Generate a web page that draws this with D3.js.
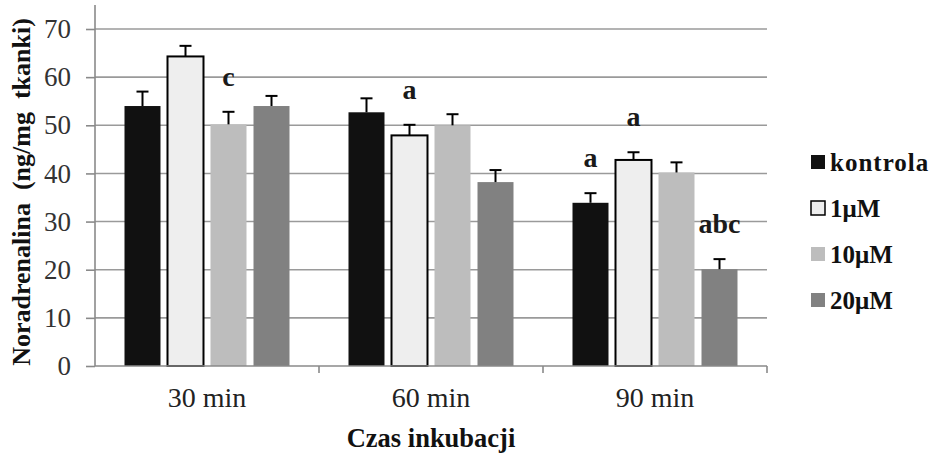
<!DOCTYPE html>
<html><head><meta charset="utf-8">
<script src="https://cdn.jsdelivr.net/npm/d3@7"></script>
<style>body{margin:0;background:#fff}svg{display:block}</style>
</head><body>
<svg id="c" width="933" height="456"></svg>
<script>
const categories = ["30 min", "60 min", "90 min"];
const seriesNames = ["kontrola", "1\u03bcM", "10\u03bcM", "20\u03bcM"];
const kontrola = [54.0, 52.7, 33.9];
const uM1 = [64.3, 47.9, 42.8];
const uM10 = [50.2, 50.0, 40.2];
const uM20 = [54.0, 38.2, 20.1];
const errKontrola = [3.0, 2.9, 2.0];
const errUM1 = [2.2, 2.2, 1.6];
const errUM10 = [2.6, 2.3, 2.1];
const errUM20 = [2.1, 2.5, 2.1];
const yTicks = [0, 10, 20, 30, 40, 50, 60, 70];
const annotations = [
  {cat: "30 min", series: "10\u03bcM", text: "c"},
  {cat: "60 min", series: "1\u03bcM", text: "a"},
  {cat: "90 min", series: "kontrola", text: "a"},
  {cat: "90 min", series: "1\u03bcM", text: "a"},
  {cat: "90 min", series: "20\u03bcM", text: "abc"}
];

const values = [kontrola, uM1, uM10, uM20];
const errors = [errKontrola, errUM1, errUM10, errUM20];
const fills = ["#111111", "#eeeeee", "#bdbdbd", "#818181"];
const strokes = ["none", "#000", "none", "none"];

const svg = d3.select("#c");
const L = 95, R = 767, T = 29, B = 366;
const y = d3.scaleLinear().domain([0, 70]).range([B, T]);
const x0 = d3.scaleBand().domain(categories).range([L, R]).paddingInner(0).paddingOuter(0);
const inner = 29.5;
const x1 = d3.scaleBand().domain(seriesNames).range([inner, x0.bandwidth() - inner]).paddingInner(0.163).paddingOuter(0);

const serif = "'Liberation Serif','Times New Roman',serif";

// gridlines
svg.append("g").selectAll("line").data(yTicks.filter(d => d > 0)).join("line")
  .attr("x1", L).attr("x2", R).attr("y1", d => y(d)).attr("y2", d => y(d))
  .attr("stroke", "#9a9a9a").attr("stroke-width", 1.6);

// y axis
const yAxis = svg.append("g").attr("transform", `translate(${L},0)`)
  .call(d3.axisLeft(y).tickValues(yTicks).tickSize(9).tickPadding(15));
yAxis.select(".domain").remove();
yAxis.selectAll(".tick line").attr("stroke", "#8a8a8a").attr("stroke-width", 1.6);
yAxis.selectAll("text").attr("font-family", serif).attr("font-size", 27).attr("fill", "#333");
svg.append("line").attr("x1", L).attr("x2", L).attr("y1", y(75)).attr("y2", B)
  .attr("stroke", "#8a8a8a").attr("stroke-width", 1.6);

// bars
const groups = svg.append("g").selectAll("g").data(categories).join("g")
  .attr("transform", d => `translate(${x0(d)},0)`);
seriesNames.forEach((s, si) => {
  groups.append("rect")
    .attr("x", x1(s)).attr("width", x1.bandwidth())
    .attr("y", (d, ci) => y(values[si][ci]))
    .attr("height", (d, ci) => B - y(values[si][ci]))
    .attr("fill", fills[si]).attr("stroke", strokes[si]).attr("stroke-width", 2);
  groups.append("line")
    .attr("x1", x1(s) + x1.bandwidth() / 2).attr("x2", x1(s) + x1.bandwidth() / 2)
    .attr("y1", (d, ci) => y(values[si][ci])).attr("y2", (d, ci) => y(values[si][ci] + errors[si][ci]))
    .attr("stroke", "#000").attr("stroke-width", 2);
  groups.append("line")
    .attr("x1", x1(s) + x1.bandwidth() / 2 - 6).attr("x2", x1(s) + x1.bandwidth() / 2 + 6)
    .attr("y1", (d, ci) => y(values[si][ci] + errors[si][ci])).attr("y2", (d, ci) => y(values[si][ci] + errors[si][ci]))
    .attr("stroke", "#000").attr("stroke-width", 2);
});

// x axis
svg.append("line").attr("x1", L).attr("x2", R).attr("y1", B).attr("y2", B)
  .attr("stroke", "#8a8a8a").attr("stroke-width", 1.6);
svg.append("g").selectAll("line").data(categories).join("line")
  .attr("x1", d => x0(d) + x0.bandwidth()).attr("x2", d => x0(d) + x0.bandwidth())
  .attr("y1", B).attr("y2", B + 7).attr("stroke", "#8a8a8a").attr("stroke-width", 1.6);
svg.append("g").selectAll("text").data(categories).join("text")
  .attr("x", d => x0(d) + x0.bandwidth() / 2).attr("y", 407)
  .attr("text-anchor", "middle").attr("font-family", serif).attr("font-size", 28).attr("fill", "#222")
  .text(d => d);

// annotations
const sIdx = s => seriesNames.indexOf(s), cIdx = c => categories.indexOf(c);
svg.append("g").selectAll("text").data(annotations).join("text")
  .attr("x", d => x0(d.cat) + x1(d.series) + x1.bandwidth() / 2)
  .attr("y", d => y(values[sIdx(d.series)][cIdx(d.cat)] + errors[sIdx(d.series)][cIdx(d.cat)]) - 26)
  .attr("text-anchor", "middle").attr("font-family", serif).attr("font-weight", "bold")
  .attr("font-size", 28).attr("fill", "#1a1a1a").text(d => d.text);

// axis titles
svg.append("text").attr("x", (L + R) / 2).attr("y", 447).attr("text-anchor", "middle")
  .attr("font-family", serif).attr("font-weight", "bold").attr("font-size", 26.5).attr("fill", "#111")
  .text("Czas inkubacji");
svg.append("text").attr("transform", "translate(30,192) rotate(-90)").attr("text-anchor", "middle")
  .attr("font-family", serif).attr("font-weight", "bold").attr("font-size", 26).attr("fill", "#111")
  .style("white-space", "pre")
  .text("Noradrenalina  (ng/mg  tkanki)");

// legend
const leg = svg.append("g").selectAll("g").data(seriesNames).join("g")
  .attr("transform", (d, i) => `translate(811,${162 + i * 46})`);
leg.append("rect").attr("x", 0).attr("y", -7).attr("width", 14).attr("height", 14)
  .attr("fill", (d, i) => fills[i]).attr("stroke", (d, i) => strokes[i]).attr("stroke-width", 1.5);
leg.append("text").attr("x", 19).attr("y", 9).attr("font-family", serif).attr("font-weight", "bold")
  .attr("font-size", 25).attr("fill", "#111").attr("letter-spacing", (d, i) => i === 0 ? 1 : 0).text(d => d);
</script>
</body></html>
